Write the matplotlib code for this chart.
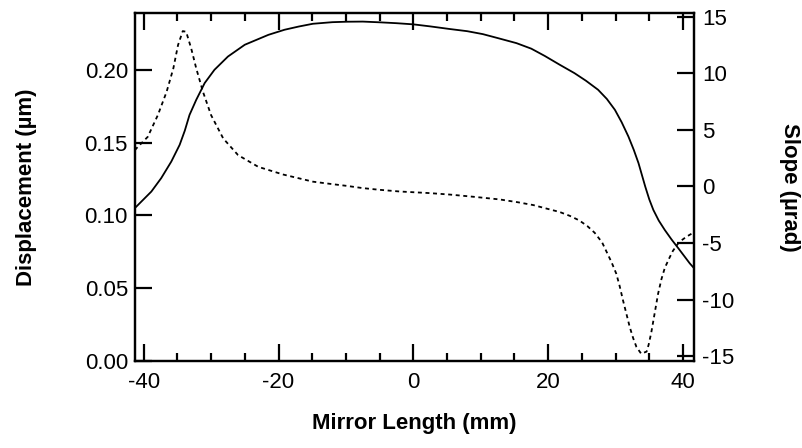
import matplotlib

matplotlib.use("Agg")
import matplotlib.pyplot as plt
from matplotlib.ticker import MultipleLocator

plt.rcParams["font.family"] = ["Liberation Sans", "DejaVu Sans"]
plt.rcParams["axes.unicode_minus"] = False

# displacement curve (solid, left axis)
disp_x = [-41.3, -41.1, -38.86, -37.4, -35.9, -34.66, -33.9, -33.2, -32.2,
          -30.95, -29.5, -27.5, -25.0, -21.5, -19.1, -17.0, -14.9, -12.0, -9.9,
          -7.5, -5.0, -2.5, 0.0, 2.5, 5.4, 8.0, 10.3, 12.5, 15.3, 17.5, 19.5,
          21.7, 23.9, 25.6, 27.4, 28.7, 29.9, 30.9, 31.9, 32.7, 33.4, 34.4, 35.0,
          35.6, 36.4, 37.3, 38.3, 39.3, 40.2, 41.0, 41.5]
disp_um = [0.1052, 0.106, 0.1164, 0.1256, 0.137, 0.1485, 0.1582, 0.169, 0.1794,
           0.1909, 0.2, 0.2091, 0.2172, 0.224, 0.2275, 0.2297, 0.2316, 0.2327,
           0.233, 0.2331, 0.2326, 0.232, 0.2312, 0.2298, 0.228, 0.2265, 0.2245,
           0.2218, 0.2183, 0.2145, 0.2095, 0.2035, 0.1977, 0.1925, 0.1863, 0.18,
           0.1725, 0.164, 0.1542, 0.145, 0.1359, 0.1198, 0.111, 0.1038, 0.0965,
           0.090, 0.0835, 0.0775, 0.072, 0.0671, 0.0645]

# slope curve (dotted, right axis)
slope_x = [-41.3, -41.1, -39.4, -37.9, -36.6, -35.6, -34.9, -34.2, -33.7, -32.95,
           -32.2, -31.2, -30.0, -28.2, -26.0, -23.0, -19.3, -16.5, -14.9, -12.0,
           -9.9, -7.5, -5.0, -2.0, 2.4, 5.4, 9.0, 12.8, 15.5, 17.8, 19.7, 21.7,
           23.2, 24.6, 25.8, 26.9, 28.0, 28.6, 29.4, 30.1, 30.6, 31.1, 31.6,
           32.1, 32.6, 33.1, 33.8, 34.6, 34.9, 35.3, 35.8, 36.3, 36.8, 37.3,
           38.0, 38.5, 39.2, 39.8, 40.5, 41.3]
slope_urad = [3.2, 3.35, 4.38, 6.3, 8.36, 10.43, 12.5, 13.73, 13.67, 12.2,
              10.43, 8.36, 6.3, 4.24, 2.77, 1.73, 1.05, 0.65, 0.42, 0.2,
              0.05, -0.15, -0.3, -0.45, -0.59, -0.72, -0.92, -1.15, -1.4, -1.65,
              -1.95, -2.26, -2.6, -3.0, -3.5, -4.1, -4.95, -5.7, -6.7, -7.71,
              -8.8, -10.07, -11.25, -12.43, -13.4, -14.2, -14.79, -14.6, -14.0,
              -12.9, -11.2, -9.5, -8.2, -7.2, -6.3, -5.7, -5.1, -4.76, -4.45,
              -4.17]

x_ticks = [-40, -20, 0, 20, 40]
disp_ticks = [0.00, 0.05, 0.10, 0.15, 0.20]
slope_ticks = [-15, -10, -5, 0, 5, 10, 15]

fig = plt.figure(figsize=(8.03, 4.48), dpi=100)
ax = fig.add_axes([0.168, 0.194, 0.696, 0.777])
ax2 = ax.twinx()

ax.plot(disp_x, disp_um, color="black", lw=1.3)
ax2.plot(slope_x, slope_urad, color="black", lw=1.3, linestyle=(0, (2.2, 2.0)))

ax.set_xlim(-41.3, 41.6)
ax.set_ylim(0, 0.239)
ax2.set_ylim(-15.44, 15.33)

ax.set_xticks(x_ticks)
ax.xaxis.set_minor_locator(MultipleLocator(5))
ax.set_yticks(disp_ticks)
ax.set_yticklabels([f"{v:.2f}" for v in disp_ticks])
ax2.set_yticks(slope_ticks)

for spine in list(ax.spines.values()) + list(ax2.spines.values()):
    spine.set_linewidth(1.6)

ax.tick_params(axis="x", which="major", direction="in", length=12.5, width=1.6,
               top=True, labelsize=16, pad=8)
ax.tick_params(axis="x", which="minor", direction="in", length=6, width=1.6, top=True)
ax.tick_params(axis="y", which="major", direction="in", length=12.5, width=1.6,
               labelsize=16, pad=5)
ax2.tick_params(axis="y", which="major", direction="in", length=12.5, width=1.6,
                labelsize=16, pad=6)

ax.set_xlabel("Mirror Length (mm)", fontsize=16, fontweight="bold", labelpad=14)
ax.set_ylabel("Displacement (µm)", fontsize=16, fontweight="bold", labelpad=34)
ax2.set_ylabel("Slope (µrad)", fontsize=16, fontweight="bold", rotation=270,
               labelpad=47)

fig.savefig("out.png", dpi=100)
